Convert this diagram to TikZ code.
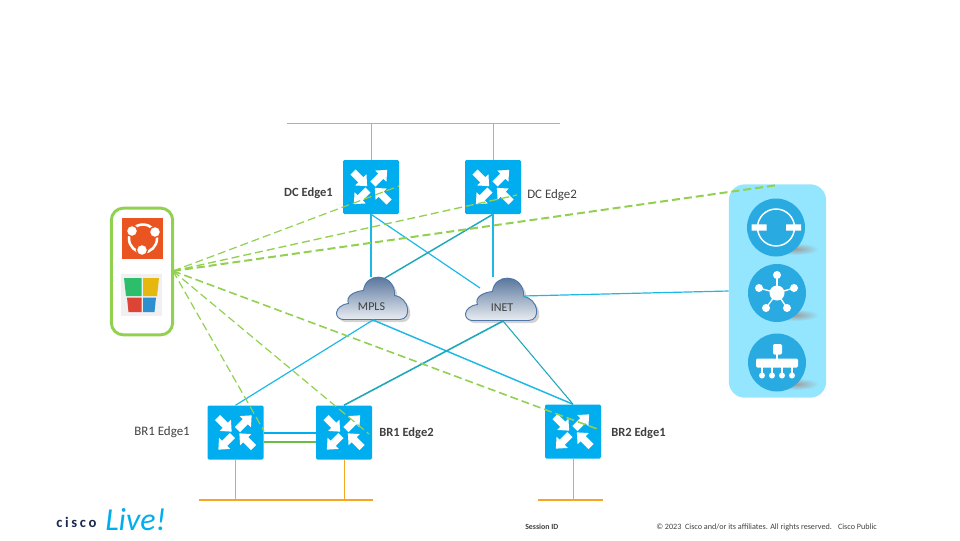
\documentclass[tikz,border=0pt]{standalone}
\usepackage{fontspec}
\setmainfont{Carlito}
\usetikzlibrary{shadows,calc}
\definecolor{routerblue}{HTML}{00AEEF}
\definecolor{linkblue}{HTML}{1DB9E6}
\definecolor{linkteal}{HTML}{1FA9B8}
\definecolor{wangreen}{HTML}{92D050}
\definecolor{lanorange}{HTML}{F5A623}
\definecolor{panelblue}{HTML}{94E6FF}
\definecolor{iconblue}{HTML}{29ABE2}
\definecolor{labelgrey}{HTML}{404040}
\definecolor{cloudtop}{HTML}{4A6A94}
\definecolor{cloudedge}{HTML}{4F76A6}
\definecolor{ctrlorange}{HTML}{E95420}
\definecolor{tilegreen}{HTML}{2DBE6C}
\definecolor{tileyellow}{HTML}{E6B80F}
\definecolor{tilered}{HTML}{DC4436}
\definecolor{tileblue}{HTML}{2E8FD0}
\definecolor{linkgreen}{HTML}{6CBB45}
\definecolor{ciscotext}{HTML}{1B2A4A}
\tikzset{
	routerbox/.style={fill=routerblue, rounded corners=1pt, minimum width=42pt, minimum height=40.5pt, inner sep=0pt},
	cloudbox/.style={minimum width=54pt, minimum height=33pt, inner sep=0pt},
	cloudtext/.style={font=\fontsize{9}{10}\selectfont, text=labelgrey},
	plainlabel/.style={font=\fontsize{9.7}{10}\selectfont, text=labelgrey, inner sep=0pt},
	edgelabel/.style={font=\fontsize{9.4}{10}\selectfont\bfseries, text=labelgrey, inner sep=0pt},
	wire/.style={lanorange, line width=0.6pt},
	wan/.style={linkblue, line width=0.9pt},
	mgmt/.style={wangreen, dash pattern=on 6pt off 3pt, line width=1pt},
	iconback/.style={circle, fill=iconblue, minimum size=43.5pt, inner sep=0pt},
	iconshadow/.style={inner color=black!38, outer color=panelblue},
	pics/routericon/.style={code={
		\foreach \tx/\ty/\ang in {-18/-15/-45, 2/-3/45, -3/3/225, 18/15/135}
			\fill[white, shift={(\tx,\ty)}, rotate=\ang] (0,-3.6) -- (11,-3.6) -- (11,-8) -- (20,0) -- (11,8) -- (11,3.6) -- (0,3.6) -- cycle;
	}},
	pics/cloudicon/.style={code={
		\draw[cloudedge, line width=0.7pt, top color=cloudtop, middle color=white, bottom color=cloudtop!12,
			drop shadow={shadow xshift=2pt, shadow yshift=-2pt, opacity=0.35}]
			(-28,20) .. controls (-38,20) and (-38,6) .. (-23,4)
			.. controls (-26,-3) and (-18,-8) .. (-8,-9)
			.. controls (-6,-27) and (20,-27) .. (23,-8)
			-- (23,-4) .. controls (38,-2) and (41,20) .. (28,20) -- cycle;
	}},
}
\begin{document}
\begin{tikzpicture}[x=0.75pt, y=-0.75pt]
	\useasboundingbox (0, 0) rectangle (960, 540);
	% side panels
	\node[draw=wangreen, line width=2.2pt, rounded corners=9pt, minimum width=46pt, minimum height=95pt, inner sep=0pt] (ctrlbox) at (142, 271.5) {};
	\node[fill=panelblue, rounded corners=12pt, minimum width=73pt, minimum height=160pt, inner sep=0pt] (svcpanel) at (777.5, 291) {};
	% controller icons
	\node[fill=ctrlorange, minimum size=31pt, inner sep=0pt] (ctrla) at (142.5, 238.5) {};
	\begin{scope}[shift={(ctrla.center)}]
		\draw[white, line width=1.9pt] (0.5,0) circle (14);
		\foreach \dx/\dy in {-10.5/-7.5, 12.5/-6.5, -0.5/11.5}
			\draw[ctrlorange, fill=white, line width=1pt] (\dx,\dy) circle (5.6);
	\end{scope}
	\node[fill=black!6, minimum size=31pt, inner sep=0pt] (ctrlb) at (141.5, 295) {};
	\begin{scope}[shift={(ctrlb.center)}]
		\fill[tilegreen] (-17.5,-17) -- (0,-17) -- (0,1) -- (-15.5,1) -- cycle;
		\fill[tileyellow] (1.5,-17) -- (17.5,-17) -- (15.5,1) -- (1.5,1) -- cycle;
		\fill[tilered] (-14.5,2.5) -- (0,2.5) -- (0,17) -- (-13,17) -- cycle;
		\fill[tileblue] (1.5,2.5) -- (14.5,2.5) -- (13,17) -- (1.5,17) -- cycle;
	\end{scope}
	% service icons
	\shade[iconshadow] (795, 249) ellipse (24 and 6);
	\shade[iconshadow] (795, 315) ellipse (24 and 6);
	\shade[iconshadow] (795, 384) ellipse (24 and 6);
	\node[iconback] (svca) at (776, 227.5) {};
	\node[iconback] (svcb) at (777, 293) {};
	\node[iconback] (svcc) at (777, 362.5) {};
	\draw[white, line width=1.1pt] (svca) circle (18.5);
	\fill[white] ($(svca)+(-24.5,-3.2)$) rectangle ++(15,6.4) ($(svca)+(10,-3.2)$) rectangle ++(15,6.4);
	\begin{scope}[shift={(svcb.center)}]
		\foreach \dx/\dy in {0/-18, -18/-5, 17/-5, -11/15, 10/15} {
			\draw[white, line width=1pt] (0,0) -- (\dx,\dy);
			\fill[white] (\dx,\dy) circle (4);
		}
		\fill[white] (0,0) circle (7.5);
	\end{scope}
	\begin{scope}[shift={(svcc.center)}]
		\draw[white, line width=1pt] (0,-12) -- (0,0);
		\fill[white, rounded corners=1pt] (-4,-18.5) rectangle (5,-8);
		\fill[white, rounded corners=1pt] (-21,-4) rectangle (21,5);
		\foreach \dx in {-15,-5,5,15} {
			\draw[white, line width=1pt] (\dx,0) -- (\dx,13);
			\fill[white] (\dx,13) circle (3);
		}
	\end{scope}
	% routers
	\node[routerbox] (dca) at (371, 187) {};
	\node[routerbox] (dcb) at (493, 187) {};
	\node[routerbox] (bra) at (235.5, 432.5) {};
	\node[routerbox] (brb) at (344, 432.5) {};
	\node[routerbox] (brc) at (573, 431.5) {};
	\foreach \r in {dca, dcb, bra, brb, brc}
		\pic at (\r.center) {routericon};
	\node[edgelabel, anchor=east] (dcalabel) at (333, 193) {DC Edge1};
	\node[plainlabel, anchor=west] (dcblabel) at (527, 195) {DC Edge2};
	\node[plainlabel, anchor=east] (bralabel) at (190, 432) {BR1 Edge1};
	\node[edgelabel, anchor=west] (brblabel) at (379, 433) {BR1 Edge2};
	\node[edgelabel, anchor=west] (brclabel) at (611, 433) {BR2 Edge1};
	% clouds
	\pic at (371.5, 299.5) {cloudicon};
	\pic at (500.5, 300.5) {cloudicon};
	\node[cloudbox] (mpls) at (371.5, 299.5) {};
	\node[cloudbox] (inet) at (500.5, 300.5) {};
	\node[cloudtext] (mplslabel) at (371.5, 307) {MPLS};
	\node[cloudtext] (inetlabel) at (502, 308) {INET};
	% lan segments
	\coordinate (dcbusl) at (287, 123.5);
	\coordinate (dcbusr) at (560, 123.5);
	\coordinate (dcbusa) at (371, 123.5);
	\coordinate (dcbusb) at (493, 123.5);
	\coordinate (brbusl) at (199, 500);
	\coordinate (brbusr) at (373, 500);
	\coordinate (brbusa) at (235.5, 500);
	\coordinate (brbusb) at (344, 500);
	\coordinate (brcbusl) at (538, 500);
	\coordinate (brcbusr) at (603, 500);
	\coordinate (brcbusa) at (573, 500);
	\draw[wire, line width=0.75pt] (dcbusl) -- (dcbusr);
	\draw[wire] (dcbusa) -- (dca.north);
	\draw[wire] (dcbusb) -- (dcb.north);
	\draw[lanorange, line width=1.2pt] (brbusl) -- (brbusr);
	\draw[lanorange, line width=1.2pt] (brcbusl) -- (brcbusr);
	\draw[wire] (bra.south) -- (brbusa);
	\draw[wire] (brb.south) -- (brbusb);
	\draw[wire] (brc.south) -- (brcbusa);
	% wan links
	\coordinate (inetnw) at (480, 288);
	\coordinate (mplsne) at (385, 278);
	\coordinate (mplss) at (373, 320);
	\coordinate (inets) at (503, 321);
	\coordinate (inete) at (523, 296);
	\coordinate (inetn) at (493, 277);
	\coordinate (mplsn) at (371, 277);
	\draw[wan] (dca.south) -- (mplsn);
	\draw[wan] (dca.south) -- (inetnw);
	\draw[linkteal, line width=1.1pt] (dcb.south) -- (mplsne);
	\draw[wan] (dcb.south) -- (inetn);
	\draw[wan] (mplss) -- (bra.north);
	\draw[wan, line width=1.1pt] (mplss) -- (brc.north);
	\draw[linkteal, line width=1.2pt] (inets) -- (brb.north);
	\draw[linkteal, line width=0.8pt] (inets) -- (brc.north);
	\draw[wan] (inete) -- (svcpanel.west);
	\draw[routerblue, line width=1.5pt] ($(bra.east)+(0,0.5)$) -- ($(brb.west)+(0,0.5)$);
	\draw[linkgreen, line width=1.5pt] ($(bra.east)+(0,9.5)$) -- ($(brb.west)+(0,9.5)$);
	% controller sessions
	\coordinate (ctrlhub) at (173, 271);
	\coordinate (dcaend) at (399, 186);
	\coordinate (dcbend) at (517, 195);
	\coordinate (svcend) at (778, 185);
	\coordinate (braend) at (264, 431);
	\coordinate (brbend) at (369, 434);
	\coordinate (brcend) at (600, 430);
	\draw[mgmt, line width=0.9pt] (ctrlhub) -- (dcaend);
	\draw[mgmt, line width=1pt] (ctrlhub) -- (dcbend);
	\draw[mgmt, line width=1.5pt] (ctrlhub) -- (svcend);
	\draw[mgmt, line width=0.9pt] (ctrlhub) -- (braend);
	\draw[mgmt, line width=0.9pt] (ctrlhub) -- (brbend);
	\draw[mgmt, line width=1.2pt] (ctrlhub) -- (brcend);
	% footer
	\node[anchor=west, inner sep=0pt, font=\fontsize{11}{12}\selectfont\bfseries, text=ciscotext] (logoa) at (56, 522) {c\hspace{2pt}i\hspace{2pt}s\hspace{2pt}c\hspace{2pt}o};
	\node[anchor=base west, inner sep=0pt, font=\fontsize{24}{24}\selectfont\itshape, text=routerblue] (logob) at (105, 530) {Live!};
	\node[anchor=west, inner sep=0pt, font=\fontsize{5.9}{6}\selectfont\bfseries, text=labelgrey] (session) at (525, 527) {Session ID};
	\node[anchor=west, inner sep=0pt, font=\fontsize{6.1}{6}\selectfont, text=labelgrey] (legal) at (656, 527) {© 2023~ Cisco and/or its affiliates. All rights reserved.~~ Cisco Public};
\end{tikzpicture}
\end{document}
